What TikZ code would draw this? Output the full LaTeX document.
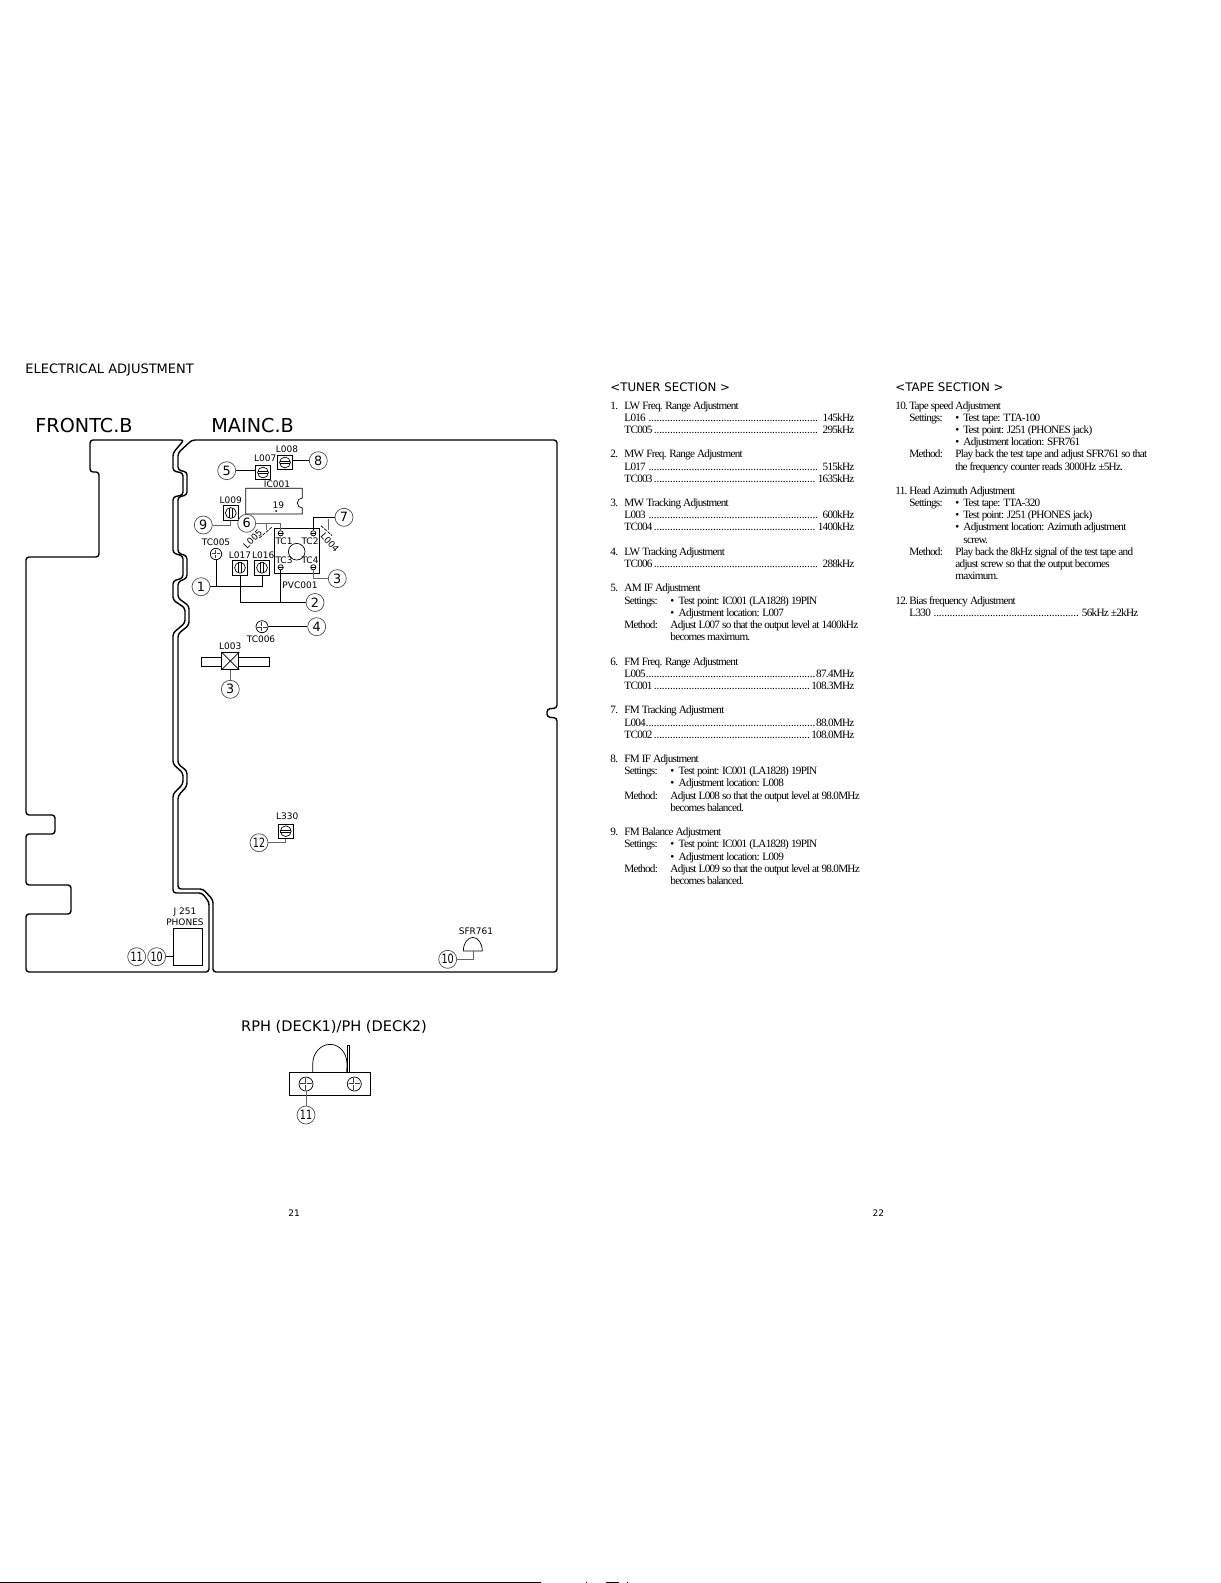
\documentclass[tikz,border=0pt]{standalone}
\usepackage{fontspec}
\setmainfont{Liberation Serif}[LetterSpace=-6.6]
\newfontfamily\labelfont{DejaVu Sans}
\newcommand{\leaderdots}{\leaders\hbox to 0.24em{\hss.\hss}\hfill}
\tikzset{
	boardline/.style={line width=0.7pt, rounded corners=1.5pt},
	thinline/.style={line width=0.35pt},
	greyline/.style={line width=0.35pt, black!60},
	numcirc/.style={draw, black!70, text=black, line width=0.35pt, circle, minimum size=9pt, inner sep=0pt, font=\labelfont\fontsize{6.4}{7}\selectfont},
	partlabel/.style={inner sep=0pt, font=\labelfont\fontsize{4.5}{5}\selectfont},
	boardtitle/.style={inner sep=0pt, font=\labelfont\fontsize{9.6}{10}\selectfont},
	sectiontitle/.style={inner sep=0pt, anchor=base west, font=\labelfont\fontsize{5.9}{7}\selectfont},
	bodyrow/.style={inner sep=0pt, anchor=base west, xshift=-0.5pt, yshift=-0.5pt, font=\fontsize{5.6}{6}\selectfont},
	leaderrow/.style={bodyrow, text width=#1, align=justify},
	trimh/.style={draw, line width=0.35pt, minimum size=7.3pt, inner sep=0pt, path picture={
		\draw[thinline] (path picture bounding box.center) circle (2.7pt);
		\draw[thinline] (path picture bounding box.center) ++(-2.7pt,0.6pt) -- ++(5.4pt,0pt) ++(0pt,-1.2pt) -- ++(-5.4pt,0pt);}},
	trimv/.style={draw, line width=0.35pt, minimum size=7.3pt, inner sep=0pt, path picture={
		\draw[thinline] (path picture bounding box.center) circle (2.7pt);
		\draw[thinline] (path picture bounding box.center) ++(0.6pt,-2.7pt) -- ++(0pt,5.4pt) ++(-1.2pt,0pt) -- ++(0pt,-5.4pt);}},
	crosshead/.style={draw, line width=0.35pt, circle, minimum size=#1, inner sep=0pt, path picture={
		\draw[line width=1.1pt, black!75] ([xshift=0.7pt]path picture bounding box.west) -- ([xshift=-0.7pt]path picture bounding box.east);
		\draw[line width=1.1pt, black!75] ([yshift=-0.7pt]path picture bounding box.north) -- ([yshift=0.7pt]path picture bounding box.south);
		\draw[line width=0.5pt, white] ([xshift=0.7pt]path picture bounding box.west) -- ([xshift=-0.7pt]path picture bounding box.east);
		\draw[line width=0.5pt, white] ([yshift=-0.7pt]path picture bounding box.north) -- ([yshift=0.7pt]path picture bounding box.south);}},
	smallscrew/.style={draw, line width=0.35pt, circle, minimum size=2.6pt, inner sep=0pt, path picture={
		\draw[thinline] (path picture bounding box.west) -- (path picture bounding box.east);}},
}

\begin{document}
\begin{tikzpicture}[x=0.5pt,y=-0.5pt]
	\useasboundingbox (0,0) rectangle (1220,1583);
	% boards
	\draw[boardline] (184,440) -- (90,440) -- (90,472) -- (99,472) -- (99,557) -- (26,557) -- (26,815) -- (55,815) -- (55,834) -- (26,834) -- (26,885) -- (71,885) -- (71,914) -- (26,914) -- (26,972) -- (209,972) -- (209,902) -- (202,893) -- (173,893) -- (173,794) -- (183,784) -- (183,773) -- (173,764) -- (173,633) -- (185,623) -- (185,608) -- (173,600) -- (173,581) -- (183,578) -- (183,556) -- (173,553) -- (173,497) -- (183,495) -- (183,473) -- (173,471) -- (173,453) -- cycle;
	\draw[boardline] (192,440) -- (178,453) -- (178,470) -- (187,472) -- (187,495) -- (178,497) -- (178,553) -- (187,556) -- (187,578) -- (178,582) -- (178,598) -- (189,606) -- (189,625) -- (178,634) -- (178,764) -- (187,771) -- (187,786) -- (178,796) -- (178,889) -- (203,889) -- (213,900) -- (213,972) -- (557,972) -- (557,718) -- (547,717) -- (547,709) -- (557,708) -- (557,440) -- cycle;
	% titles
	\node[sectiontitle, font=\labelfont\fontsize{6.5}{7}\selectfont] (mainhead) at (25,373) {ELECTRICAL ADJUSTMENT};
	\node[boardtitle, anchor=base west] (fronttitle) at (35,432) {FRONTC.B};
	\node[boardtitle, anchor=base west] (maintitle) at (211,432) {MAINC.B};
	% upper parts
	\node[partlabel] (lbl008) at (287,449.3) {L008};
	\node[trimh] (l008) at (285,462.5) {};
	\node[numcirc] (c8) at (318.3,460.7) {8};
	\draw[thinline] (l008.east |- c8) -- (c8);
	\node[partlabel] (lbl007) at (265.3,458) {L007};
	\node[trimh] (l007) at (263,472.5) {};
	\node[numcirc] (c5) at (226.7,470.7) {5};
	\draw[thinline] (c5) -- (l007.west |- c5);
	\node[partlabel] (lblic) at (277,484) {IC001};
	\draw[thinline] (245.7,514) -- (245.7,488.3) -- (302.3,488.3) -- (302.3,498) arc (90:270:2.5pt) -- (302.3,514) -- cycle;
	\node[partlabel] (lbl19) at (278.3,505) {19};
	\fill (276,511) circle (0.5pt);
	\node[partlabel] (lbl009) at (230.7,500) {L009};
	\node[trimv] (l009) at (230.8,513) {};
	\node[numcirc] (c9) at (203.3,525) {9};
	\draw[greyline] (c9) -| (l009.south);
	% tuning block
	\node[draw, line width=0.35pt, minimum width=22.3pt, minimum height=22.5pt, inner sep=0pt] (pvc) at (296.7,550.8) {};
	\node[draw, line width=0.35pt, circle, minimum size=8.3pt, inner sep=0pt] (pvcdial) at (296.7,551.7) {};
	\node[smallscrew] (tc1) at (280.7,533.3) {};
	\node[smallscrew] (tc2) at (313.3,533.3) {};
	\node[smallscrew] (tc3) at (280.7,567.3) {};
	\node[smallscrew] (tc4) at (313.3,567.3) {};
	\node[partlabel] (lbltc1) at (284,541.7) {TC1};
	\node[partlabel] (lbltc2) at (310,541.7) {TC2};
	\node[partlabel] (lbltc3) at (284,560) {TC3};
	\node[partlabel] (lbltc4) at (310,560) {TC4};
	\node[partlabel] (lblpvc) at (300,585.7) {PVC001};
	\node[numcirc] (c6) at (246.7,523.3) {6};
	\draw[greyline] (c6) -| (tc1.north);
	\coordinate (l005top) at (266.7,530);
	\coordinate (l005end) at (259,538.3);
	\draw[greyline] (266.7,523.3) -- (l005top);
	\draw[thinline, dash pattern=on 1.6pt off 0.6pt] (271.7,527.3) -- (l005end);
	\node[partlabel, rotate=45] (lbl005) at (252.7,539) {L005};
	\node[numcirc] (c7) at (344,517.3) {7};
	\draw[thinline] (c7) -| (tc2.north);
	\coordinate (l004top) at (320.9,525.7);
	\coordinate (l004end) at (332,535.5);
	\draw[greyline] (328.3,519) -- (328.3,530);
	\draw[thinline, dash pattern=on 1.6pt off 0.6pt] (l004top) -- (l004end);
	\node[partlabel, rotate=-48] (lbl004) at (330,542.7) {L004};
	\node[partlabel] (lbltc5) at (216,542.3) {TC005};
	\node[crosshead=5.7pt] (tc005) at (216,554) {};
	\node[partlabel] (lbl017) at (240,555.7) {L017};
	\node[trimv] (l017) at (240,567.8) {};
	\node[partlabel] (lbl016) at (263.3,555.7) {L016};
	\node[trimv] (l016) at (262,567.8) {};
	\node[numcirc] (c1) at (201,586.7) {1};
	\draw[thinline] (c1) -| (l016.south);
	\draw[thinline] (tc005.south) -- (tc005.south |- c1);
	\node[numcirc] (c2) at (315,602.5) {2};
	\draw[thinline] (c2) -| (l017.south);
	\draw[thinline] (tc3.south) -- (tc3.south |- c2);
	\node[numcirc] (c3a) at (337.3,578.6) {3};
	\draw[greyline] (c3a) -| (tc4.south);
	% lower parts
	\node[crosshead=6pt] (tc006) at (262,626.7) {};
	\node[numcirc] (c4) at (316.7,626.7) {4};
	\draw[thinline] (tc006) -- (c4);
	\node[partlabel] (lbltc6) at (261,639) {TC006};
	\node[partlabel] (lbl003) at (230.3,646.7) {L003};
	\node[draw, line width=0.35pt, minimum width=34pt, minimum height=4.4pt, inner sep=0pt] (l003bar) at (235.3,661.6) {};
	\node[draw, line width=0.5pt, fill=white, minimum size=8.5pt, inner sep=0pt] (l003) at (230.3,661) {};
	\draw[thinline] (l003.north west) -- (l003.south east);
	\draw[thinline] (l003.north east) -- (l003.south west);
	\node[numcirc] (c3b) at (230.3,689.3) {3};
	\draw[greyline] (l003) -- (c3b);
	\node[partlabel] (lbl330) at (287.3,816.7) {L330};
	\node[trimh] (l330) at (285.8,831.2) {};
	\node[numcirc] (c12) at (259,842.7) {\scalebox{0.75}[1]{12}};
	\draw[greyline] (c12) -| (l330.south);
	\node[partlabel] (lblj251) at (185,912) {J 251};
	\node[partlabel] (lblphones) at (185,922.7) {PHONES};
	\node[draw, line width=0.45pt, minimum width=14.7pt, minimum height=18.5pt, inner sep=0pt] (j251) at (188,946.8) {};
	\node[numcirc] (c10a) at (156.7,956.7) {\scalebox{0.75}[1]{10}};
	\node[numcirc] (c11a) at (136.7,956.7) {\scalebox{0.75}[1]{11}};
	\draw[thinline] (c10a) -- (j251.west |- c10a);
	\node[partlabel] (lblsfr) at (476,931) {SFR761};
	\draw[thinline] (463.3,951) arc (180:0:4.75pt and 6.8pt) -- cycle;
	\coordinate (sfrfoot) at (473.3,951);
	\node[numcirc] (c10b) at (447.7,959.3) {\scalebox{0.75}[1]{10}};
	\draw[greyline] (c10b) -| (sfrfoot);
	% head
	\node[inner sep=0pt, font=\labelfont\fontsize{7.3}{8}\selectfont] (headtitle) at (334,1026.7) {RPH (DECK1)/PH (DECK2)};
	\draw[thinline] (312.7,1072.3) -- (312.7,1064) arc (180:90:8.7pt and 9.8pt) -- ++(0.3,0) arc (90:0:8.3pt and 9.8pt) -- (346.7,1072.3);
	\node[draw, line width=0.35pt, minimum width=1.3pt, minimum height=13.6pt, inner sep=0pt] (headpin) at (348.3,1058.6) {};
	\node[draw, line width=0.35pt, minimum width=40.5pt, minimum height=11.7pt, inner sep=0pt] (headbase) at (329.5,1084) {};
	\node[crosshead=7pt] (hs1) at (306,1084) {};
	\node[crosshead=7pt] (hs2) at (354.3,1084) {};
	\node[numcirc] (c11b) at (306,1115) {\scalebox{0.75}[1]{11}};
	\draw[greyline] (hs1) -- (c11b);
	% tuner section
	\node[sectiontitle] (tunerhead) at (610,392) {<TUNER SECTION >};
	\node[bodyrow] (n1) at (611,408) {1.};
	\node[bodyrow] (t1) at (625,408) {LW Freq. Range Adjustment};
	\node[leaderrow=115pt] (r1a) at (625,420.2) {L016 \leaderdots{} 145kHz};
	\node[leaderrow=115pt] (r1b) at (625,432.4) {TC005\leaderdots{} 295kHz};
	\node[bodyrow] (n2) at (611,456.8) {2.};
	\node[bodyrow] (t2) at (625,456.8) {MW Freq. Range Adjustment};
	\node[leaderrow=115pt] (r2a) at (625,469) {L017 \leaderdots{} 515kHz};
	\node[leaderrow=115pt] (r2b) at (625,481.1) {TC003\leaderdots{} 1635kHz};
	\node[bodyrow] (n3) at (611,505.5) {3.};
	\node[bodyrow] (t3) at (625,505.5) {MW Tracking Adjustment};
	\node[leaderrow=115pt] (r3a) at (625,517.7) {L003 \leaderdots{} 600kHz};
	\node[leaderrow=115pt] (r3b) at (625,529.9) {TC004\leaderdots{} 1400kHz};
	\node[bodyrow] (n4) at (611,554.3) {4.};
	\node[bodyrow] (t4) at (625,554.3) {LW Tracking Adjustment};
	\node[leaderrow=115pt] (r4a) at (625,566.5) {TC006\leaderdots{} 288kHz};
	\node[bodyrow] (n5) at (611,590.9) {5.};
	\node[bodyrow] (t5) at (625,590.9) {AM IF Adjustment};
	\node[bodyrow] (s5) at (625,603) {Settings:};
	\node[bodyrow] (b5a) at (671,603) {•};
	\node[bodyrow] (i5a) at (679.3,603) {Test point: IC001 (LA1828) 19PIN};
	\node[bodyrow] (b5b) at (671,615.2) {•};
	\node[bodyrow] (i5b) at (679.3,615.2) {Adjustment location: L007};
	\node[bodyrow] (m5) at (625,627.4) {Method:};
	\node[bodyrow] (d5a) at (671,627.4) {Adjust L007 so that the output level at 1400kHz};
	\node[bodyrow] (d5b) at (671,639.6) {becomes maximum.};
	\node[bodyrow] (n6) at (611,664) {6.};
	\node[bodyrow] (t6) at (625,664) {FM Freq. Range Adjustment};
	\node[leaderrow=115pt] (r6a) at (625,676.2) {L005\leaderdots{}87.4MHz};
	\node[leaderrow=115pt] (r6b) at (625,688.4) {TC001\leaderdots{}108.3MHz};
	\node[bodyrow] (n7) at (611,712.8) {7.};
	\node[bodyrow] (t7) at (625,712.8) {FM Tracking Adjustment};
	\node[leaderrow=115pt] (r7a) at (625,725) {L004\leaderdots{}88.0MHz};
	\node[leaderrow=115pt] (r7b) at (625,737.1) {TC002\leaderdots{}108.0MHz};
	\node[bodyrow] (n8) at (611,761.5) {8.};
	\node[bodyrow] (t8) at (625,761.5) {FM IF Adjustment};
	\node[bodyrow] (s8) at (625,773.7) {Settings:};
	\node[bodyrow] (b8a) at (671,773.7) {•};
	\node[bodyrow] (i8a) at (679.3,773.7) {Test point: IC001 (LA1828) 19PIN};
	\node[bodyrow] (b8b) at (671,785.9) {•};
	\node[bodyrow] (i8b) at (679.3,785.9) {Adjustment location: L008};
	\node[bodyrow] (m8) at (625,798.1) {Method:};
	\node[bodyrow] (d8a) at (671,798.1) {Adjust L008 so that the output level at 98.0MHz};
	\node[bodyrow] (d8b) at (671,810.3) {becomes balanced.};
	\node[bodyrow] (n9) at (611,834.7) {9.};
	\node[bodyrow] (t9) at (625,834.7) {FM Balance Adjustment};
	\node[bodyrow] (s9) at (625,846.9) {Settings:};
	\node[bodyrow] (b9a) at (671,846.9) {•};
	\node[bodyrow] (i9a) at (679.3,846.9) {Test point: IC001 (LA1828) 19PIN};
	\node[bodyrow] (b9b) at (671,859) {•};
	\node[bodyrow] (i9b) at (679.3,859) {Adjustment location: L009};
	\node[bodyrow] (m9) at (625,871.2) {Method:};
	\node[bodyrow] (d9a) at (671,871.2) {Adjust L009 so that the output level at 98.0MHz};
	\node[bodyrow] (d9b) at (671,883.4) {becomes balanced.};
	% tape section
	\node[sectiontitle] (tapehead) at (895,392) {<TAPE SECTION >};
	\node[bodyrow] (n10) at (896,408) {10.};
	\node[bodyrow] (t10) at (910,408) {Tape speed Adjustment};
	\node[bodyrow] (s10) at (910,420.2) {Settings:};
	\node[bodyrow] (b10a) at (956,420.2) {•};
	\node[bodyrow] (i10a) at (964,420.2) {Test tape: TTA-100};
	\node[bodyrow] (b10b) at (956,432.4) {•};
	\node[bodyrow] (i10b) at (964,432.4) {Test point: J251 (PHONES jack)};
	\node[bodyrow] (b10c) at (956,444.6) {•};
	\node[bodyrow] (i10c) at (964,444.6) {Adjustment location: SFR761};
	\node[bodyrow] (m10) at (910,456.8) {Method:};
	\node[bodyrow] (d10a) at (956,456.8) {Play back the test tape and adjust SFR761 so that};
	\node[bodyrow] (d10b) at (956,469) {the frequency counter reads 3000Hz ±5Hz.};
	\node[bodyrow] (n11) at (896,493.3) {11.};
	\node[bodyrow] (t11) at (910,493.3) {Head Azimuth Adjustment};
	\node[bodyrow] (s11) at (910,505.5) {Settings:};
	\node[bodyrow] (b11a) at (956,505.5) {•};
	\node[bodyrow] (i11a) at (964,505.5) {Test tape: TTA-320};
	\node[bodyrow] (b11b) at (956,517.7) {•};
	\node[bodyrow] (i11b) at (964,517.7) {Test point: J251 (PHONES jack)};
	\node[bodyrow] (b11c) at (956,529.9) {•};
	\node[bodyrow] (i11c) at (964,529.9) {Adjustment location: Azimuth adjustment};
	\node[bodyrow] (i11d) at (964,542.1) {screw.};
	\node[bodyrow] (m11) at (910,554.3) {Method:};
	\node[bodyrow] (d11a) at (956,554.3) {Play back the 8kHz signal of the test tape and};
	\node[bodyrow] (d11b) at (956,566.5) {adjust screw so that the output becomes};
	\node[bodyrow] (d11c) at (956,578.7) {maximum.};
	\node[bodyrow] (n12) at (896,603) {12.};
	\node[bodyrow] (t12) at (910,603) {Bias frequency Adjustment};
	\node[leaderrow=114.5pt] (r12a) at (910,615.2) {L330 \leaderdots{} 56kHz ±2kHz};
	% page numbers, bottom edge
	\node[partlabel] (pg21) at (294,1213.6) {21};
	\node[partlabel] (pg22) at (878.4,1213.6) {22};
	\fill (0,1582) rectangle (541,1583);
	\fill (586,1582) rectangle (587,1583);
	\fill (606,1582) rectangle (619,1583);
	\fill (627,1582) rectangle (628,1583);
\end{tikzpicture}
\end{document}
